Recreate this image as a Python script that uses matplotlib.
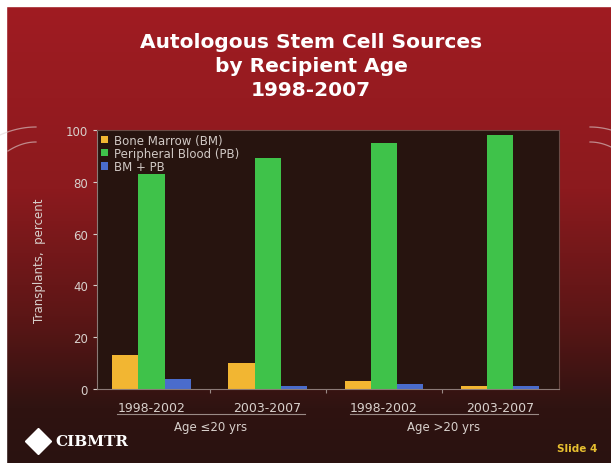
import numpy as np
import matplotlib.pyplot as plt
from matplotlib.colors import LinearSegmentedColormap
from matplotlib.patches import Rectangle

# ---- data ----
periods = ['1998-2002', '2003-2007', '1998-2002', '2003-2007']
age_groups = ['Age \u226420 yrs', 'Age >20 yrs']
series = ['Bone Marrow (BM)', 'Peripheral Blood (PB)', 'BM + PB']
bm = [13, 10, 3, 1]
pb = [83, 89, 95, 98]
bm_pb = [4, 1, 2, 1]

colors = ['#f2b632', '#3fc24a', '#4a6ccc']
W, H = 611, 464

fig = plt.figure(figsize=(W / 100, H / 100), dpi=100)
fig.patch.set_facecolor('white')

# slide background: red at top fading to dark brown
bg = fig.add_axes([0, 0, 1, 1])
bg.set_xlim(0, W)
bg.set_ylim(H, 0)
bg.axis('off')
cmap = LinearSegmentedColormap.from_list(
    'slide', [(0, '#a01c22'), (0.40, '#8c1a1e'), (0.68, '#5c1616'),
              (0.88, '#2f1311'), (1, '#2a1210')])
grad = np.linspace(0, 1, 256).reshape(-1, 1)
bg.imshow(grad, cmap=cmap, aspect='auto', extent=[6, W, H, 7], zorder=0)
bg.add_patch(Rectangle((0, 0), W, 7, color='white', zorder=1))
bg.add_patch(Rectangle((0, 0), 6, H, color='white', zorder=1))

# faint swoosh lines at the slide edges
t = np.linspace(0, 1, 30)
for x0, x1, y0, y1 in [(0, 36, 136, 128), (8, 36, 152, 143),
                       (590, 611, 128, 131), (590, 611, 143, 148)]:
    xs = x0 + (x1 - x0) * t
    ys = y0 + (y1 - y0) * (1 - (1 - t) ** 2) if x0 < 100 else y0 + (y1 - y0) * t ** 2
    bg.plot(xs, ys, color='#e0d4d4', lw=0.9, alpha=0.6, zorder=2)

# title
for yy, line in zip([42, 66, 90], ['Autologous Stem Cell Sources',
                                   'by Recipient Age', '1998-2007']):
    bg.text(311, yy, line, ha='center', va='center',
            color='white', fontsize=14.5, fontweight='bold')

# chart
ax = fig.add_axes([97 / W, 1 - 390 / H, (559 - 97) / W, (390 - 131) / H])
ax.set_facecolor('#27140f')
x = np.arange(len(periods))
w = 0.225
for i, (vals, lab) in enumerate(zip([bm, pb, bm_pb], series)):
    ax.bar(x + (i - 1) * w, vals, w, color=colors[i], label=lab, zorder=2)
ax.set_xlim(-0.47, 3.51)
ax.set_ylim(0, 100)
ax.set_yticks([0, 20, 40, 60, 80, 100])
ax.tick_params(axis='y', colors='#d8d0cc', labelsize=8.5, length=3)
ax.set_xticks([0.5, 1.5, 2.5])
ax.set_xticklabels([])
ax.tick_params(axis='x', colors='#9a8a86', length=3)
for s in ['top', 'right']:
    ax.spines[s].set_color('#6a4a44')
ax.spines['left'].set_color('#8a7a76')
ax.spines['bottom'].set_color('#8a7a76')
ax.set_ylabel('Transplants,  percent', color='#d8d0cc', fontsize=8.5, labelpad=14)

leg = ax.legend(loc='upper left', fontsize=8.5, frameon=False, handlelength=0.6,
                handleheight=0.6, handletextpad=0.5, labelspacing=0.02,
                borderaxespad=0.1, borderpad=0.2)
for txt in leg.get_texts():
    txt.set_color('#d0c8c4')

# period labels and age-group brackets below the axis
for xi, p in zip(x, periods):
    px = 97 + (xi + 0.47) * (559 - 97) / 3.98
    bg.text(px, 409, p, ha='center', va='center', color='#d8d0cc', fontsize=9)
for (x0, x1), g in zip([(117, 305), (350, 538)], age_groups):
    bg.plot([x0, x1], [415, 415], color='#9a8a86', lw=0.8)
    bg.text((x0 + x1) / 2, 428, g, ha='center', va='center', color='#d8d0cc', fontsize=8.5)

# logo and slide number
bg.plot(38, 442, marker='D', markersize=13, color='white')
bg.text(92, 442, 'CIBMTR', ha='center', va='center', color='white',
        fontsize=11, family='DejaVu Serif', fontweight='bold')
bg.text(577, 449, 'Slide 4', ha='center', va='center', color='#e8c030',
        fontsize=7.5, fontweight='bold')

fig.savefig('out.png', dpi=100)
